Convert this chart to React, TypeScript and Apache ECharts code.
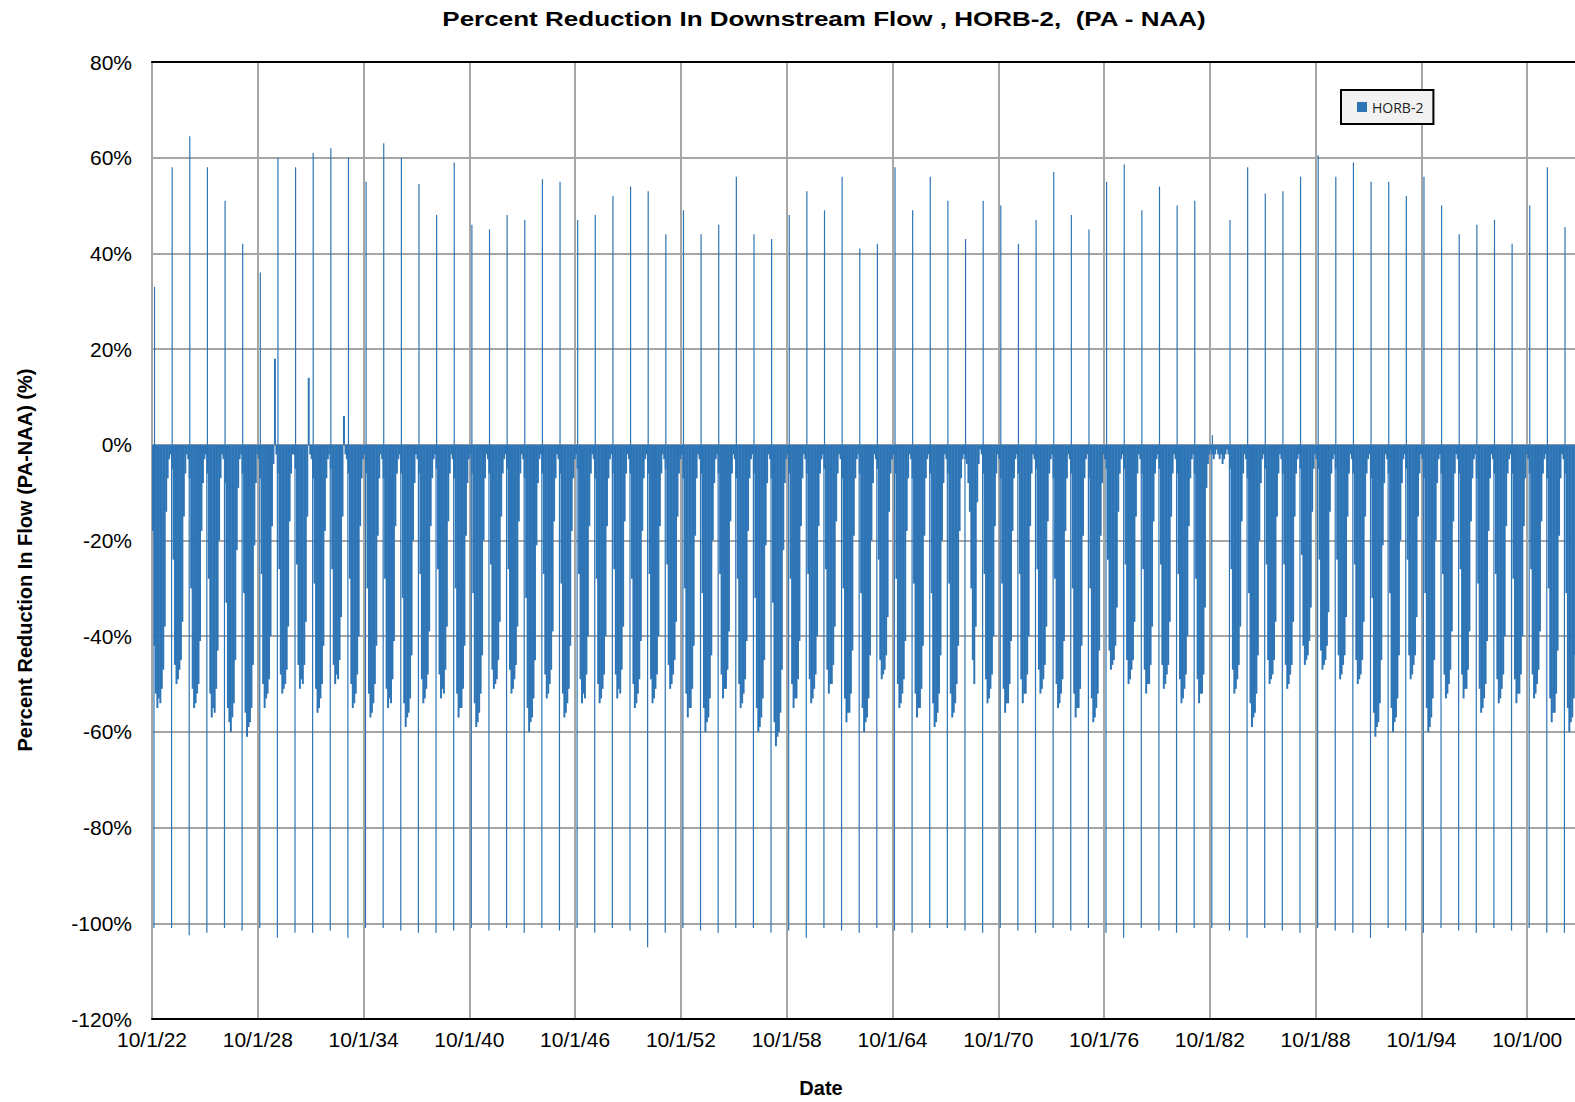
import React, { useEffect, useRef } from "react";
import * as echarts from "echarts";

// Water years begin 10/1 of these calendar years (10/1/1922 ... 10/1/2002).
const FIRST_WATER_YEAR = 1922;
const AXIS_YEARS = 84; // axis runs 10/1/22 .. 10/1/06
const Y_TICKS = [-120, -100, -80, -60, -40, -20, 0, 20, 40, 60, 80];

// Monthly percent reduction (PA - NAA), one row per water year, Oct..Sep.
const monthlyPct: number[][] = [
  [-18, -42, -52, -55, -53, -54, -51, -47, -38, -14, -7, -3], // 1922
  [-2, -5, -24, -46, -50, -49, -47, -45, -37, -15, -6, -2],
  [-3, -7, -30, -51, -55, -54, -52, -50, -41, -18, -8, -3],
  [-2, -6, -28, -52, -57, -55, -56, -51, -43, -20, -7, -2],
  [-3, -8, -33, -55, -58, -60, -57, -54, -45, -22, -9, -3],
  [-2, -6, -31, -56, -61, -59, -58, -55, -46, -21, -8, -2],
  [-3, -7, -27, -50, -55, -53, -52, -49, -40, -17, -4, 18],
  [-2, -6, -26, -48, -52, -51, -50, -47, -38, -16, -6, -2],
  [-2, -5, -25, -46, -51, -49, -50, -46, -37, -15, 14, -2],
  [-3, -7, -29, -51, -56, -55, -53, -50, -42, -18, -7, -3],
  [-2, -5, -26, -46, -50, -48, -49, -45, -36, -15, 6, -2], // 1932
  [-3, -6, -28, -50, -55, -54, -52, -48, -40, -17, -7, -3],
  [-2, -6, -30, -52, -57, -56, -54, -50, -42, -19, -7, -2],
  [-3, -7, -28, -51, -55, -53, -54, -49, -41, -17, -6, -3],
  [-2, -6, -32, -54, -59, -57, -56, -53, -44, -20, -8, -2],
  [-3, -6, -27, -49, -54, -53, -51, -48, -39, -17, -7, -3],
  [-2, -5, -26, -48, -53, -51, -52, -47, -38, -16, -6, -2],
  [-3, -7, -30, -52, -57, -55, -55, -51, -42, -19, -8, -3],
  [-2, -6, -31, -54, -59, -58, -56, -52, -44, -20, -7, -2], // 1940
  [-3, -6, -25, -47, -51, -50, -49, -45, -37, -15, -6, -3],
  [-2, -5, -26, -47, -52, -51, -49, -46, -38, -16, -6, -2],
  [-3, -7, -32, -55, -60, -58, -57, -53, -45, -21, -8, -3],
  [-2, -6, -27, -48, -53, -52, -50, -47, -39, -16, -7, -2],
  [-3, -6, -29, -52, -57, -56, -54, -51, -42, -18, -7, -3],
  [-2, -5, -27, -49, -54, -52, -53, -48, -40, -17, -6, -2],
  [-3, -7, -28, -50, -54, -53, -51, -48, -40, -17, -7, -3],
  [-2, -6, -26, -48, -53, -51, -52, -47, -38, -16, -6, -2],
  [-3, -6, -28, -50, -55, -54, -52, -49, -41, -18, -7, -3],
  [-2, -6, -27, -49, -54, -53, -51, -48, -40, -17, -6, -2], // 1950
  [-3, -5, -25, -46, -51, -50, -48, -45, -37, -15, -6, -3],
  [-2, -7, -30, -52, -57, -55, -55, -51, -42, -19, -7, -2],
  [-3, -6, -31, -55, -60, -58, -57, -53, -44, -20, -8, -3],
  [-2, -6, -27, -48, -53, -51, -51, -47, -39, -16, -6, -2],
  [-3, -7, -28, -50, -55, -54, -52, -49, -41, -18, -7, -3],
  [-2, -6, -32, -55, -60, -59, -57, -53, -45, -21, -8, -2],
  [-3, -7, -33, -58, -63, -61, -60, -56, -47, -22, -8, -3],
  [-2, -6, -28, -50, -55, -53, -53, -49, -41, -17, -7, -2],
  [-3, -6, -27, -49, -54, -53, -51, -48, -40, -17, -6, -3],
  [-2, -5, -26, -47, -52, -50, -50, -46, -38, -16, -6, -2], // 1960
  [-3, -7, -30, -53, -58, -56, -56, -52, -43, -19, -7, -3],
  [-2, -6, -31, -55, -60, -58, -57, -53, -44, -20, -8, -2],
  [-3, -5, -24, -45, -49, -48, -47, -44, -36, -14, -6, -3],
  [-2, -6, -28, -50, -55, -54, -52, -49, -41, -18, -7, -2],
  [-3, -7, -29, -52, -57, -55, -55, -51, -42, -19, -7, -3],
  [-2, -6, -31, -54, -59, -58, -56, -52, -44, -20, -8, -2],
  [-3, -6, -29, -52, -57, -56, -54, -50, -42, -18, -7, -3],
  [-2, -3, -4, -8, -14, -30, -45, -50, -38, -12, -4, -1],
  [-2, -6, -27, -49, -54, -53, -51, -48, -40, -17, -6, -2],
  [-3, -7, -29, -51, -56, -54, -54, -50, -41, -18, -7, -3], // 1970
  [-2, -6, -27, -49, -54, -52, -52, -48, -40, -17, -6, -2],
  [-3, -5, -26, -47, -52, -51, -49, -46, -38, -16, -6, -3],
  [-2, -7, -28, -50, -55, -54, -52, -49, -41, -18, -7, -2],
  [-3, -6, -30, -52, -57, -55, -55, -51, -42, -19, -7, -3],
  [-2, -7, -30, -53, -58, -57, -55, -52, -43, -19, -8, -2],
  [-3, -5, -24, -43, -47, -46, -45, -42, -34, -14, -6, -3],
  [-2, -5, -25, -45, -50, -49, -47, -45, -37, -15, -6, -2],
  [-3, -6, -26, -47, -52, -50, -50, -46, -38, -16, -6, -3],
  [-2, -5, -25, -46, -51, -50, -48, -46, -37, -15, -6, -2],
  [-3, -6, -27, -49, -54, -53, -51, -48, -40, -17, -7, -3], // 1980
  [-2, -6, -28, -49, -54, -52, -52, -48, -34, -9, -4, -2],
  [-1, -2, -3, -2, -1, -2, -3, -2, -4, -3, -2, -1],
  [-2, -5, -26, -47, -52, -51, -49, -46, -38, -16, -6, -2],
  [-3, -7, -31, -54, -59, -57, -56, -52, -44, -20, -8, -3],
  [-2, -5, -25, -45, -50, -49, -48, -45, -37, -15, -6, -2],
  [-3, -6, -25, -46, -51, -50, -48, -46, -37, -15, -6, -3],
  [-2, -5, -23, -42, -46, -45, -44, -41, -34, -14, -5, -2],
  [-3, -5, -24, -43, -47, -46, -45, -42, -35, -14, -6, -3],
  [-2, -5, -24, -44, -49, -48, -46, -44, -36, -15, -6, -2],
  [-3, -6, -25, -45, -50, -49, -48, -45, -37, -15, -6, -3], // 1990
  [-2, -7, -32, -56, -61, -59, -58, -54, -45, -21, -8, -2],
  [-3, -6, -31, -55, -60, -58, -57, -53, -44, -20, -8, -3],
  [-2, -5, -24, -44, -49, -48, -46, -44, -36, -15, -6, -2],
  [-3, -7, -31, -55, -60, -59, -57, -53, -45, -20, -8, -3],
  [-2, -6, -27, -48, -53, -52, -50, -47, -39, -16, -6, -2],
  [-3, -6, -26, -48, -53, -51, -51, -47, -39, -16, -7, -3],
  [-2, -7, -29, -51, -56, -55, -53, -50, -41, -18, -7, -2],
  [-3, -6, -27, -49, -54, -53, -51, -48, -40, -17, -6, -3],
  [-2, -6, -28, -49, -54, -52, -52, -48, -40, -17, -7, -2],
  [-3, -6, -26, -48, -53, -52, -50, -47, -39, -16, -6, -3], // 2000
  [-2, -7, -30, -53, -58, -56, -56, -52, -43, -19, -7, -2],
  [-3, -6, -31, -55, -60, -58, -57, -53, -44, -20, -8, -3],
];

// Short-lived autumn peaks (one per water year), percent.
const peakIncrease: number[] = [
  33, 58, 64.5, 58, 51, 42, 36, 60, 58, 61,
  62, 60, 55, 63, 60, 54.5, 48, 59, 46, 45,
  48, 47, 55.5, 55, 47, 48, 52, 54, 53, 44,
  49, 44, 46, 56, 44, 43, 48, 53, 49, 56,
  41, 42, 58, 49, 56, 51, 43, 51, 50, 42,
  47, 57, 48, 45, 55, 58.6, 49, 54, 50, 51,
  2, 47, 58, 52.5, 53, 56, 60.5, 56, 59, 55,
  55, 52, 56, 50, 44, 46, 47, 42, 50, 58,
  45.5,
];

// Short-lived autumn drops (one per water year), percent.
const peakDecrease: number[] = [
  -101, -101, -102.5, -102, -101, -101.5, -101, -103, -102, -102,
  -101.5, -103, -101, -101, -101.5, -102, -102, -101.5, -101, -101.5,
  -101, -102, -101, -101.5, -101, -102, -101, -101.5, -105, -102,
  -101, -101.5, -102, -101, -101, -102, -101.5, -103, -101, -101.5,
  -102, -101, -101.5, -102, -101, -101, -101.5, -102, -101, -101.5,
  -102, -101, -101.5, -101, -102, -103, -101, -101.5, -102, -101,
  -101, -101.5, -103, -101, -101.5, -102, -101, -101.5, -102, -103,
  -101, -101.5, -102, -101, -101.5, -102, -101, -101.5, -101, -102,
  -102,
];

const BLUE = "#2E75B6";
const GRID_GRAY = "#A6A6A6";
const FONT = "'Liberation Sans', Arial, sans-serif";

type Rect = [number, number, number];

function buildBlocks(): Rect[] {
  const out: Rect[] = [];
  monthlyPct.forEach((row, yi) => {
    row.forEach((v, m) => {
      out.push([yi + m / 12, yi + (m + 1) / 12, v]);
    });
  });
  return out;
}

function buildPeaks(): Rect[] {
  const out: Rect[] = [];
  peakDecrease.forEach((v, yi) => {
    const x = yi + 28 / 365;
    out.push([x, x + 1 / 365, v]);
  });
  peakIncrease.forEach((v, yi) => {
    const x = yi + 40 / 365;
    out.push([x, x + 1 / 365, v]);
  });
  return out;
}

function rectRenderer(minWidth: number, overlap: number) {
  return (_params: any, api: any) => {
    const x0 = api.value(0);
    const x1 = api.value(1);
    const v = api.value(2);
    const a = api.coord([x0, 0]);
    const b = api.coord([x1, v]);
    const w = Math.max(minWidth, b[0] - a[0] + overlap);
    return {
      type: "rect",
      shape: {
        x: a[0],
        y: Math.min(a[1], b[1]),
        width: w,
        height: Math.abs(b[1] - a[1]),
      },
      style: { fill: BLUE },
    };
  };
}

export default function App() {
  const ref = useRef<HTMLDivElement>(null);

  useEffect(() => {
    if (!ref.current) return;
    const chart = echarts.init(ref.current, undefined, { renderer: "svg" });

    const xLabel = (v: number) => {
      const yr = (FIRST_WATER_YEAR + v) % 100;
      return `10/1/${String(yr).padStart(2, "0")}`;
    };

    chart.setOption({
      animation: false,
      backgroundColor: "#ffffff",
      legend: {
        data: ["HORB-2"],
        left: 1341,
        top: 90,
        padding: [10, 10, 10, 16],
        itemWidth: 10,
        itemHeight: 10,
        icon: "rect",
        backgroundColor: "#F2F2F2",
        borderColor: "#000",
        borderWidth: 2,
        textStyle: { fontFamily: "'Open Sans', sans-serif", fontSize: 14, color: "#222" },
      },
      grid: {
        left: 152,
        top: 62,
        width: 1481,
        height: 957,
        outerBoundsMode: "none",
        containLabel: false,
      },
      xAxis: [
        {
          type: "value",
          min: 0,
          max: AXIS_YEARS,
          interval: 6,
          axisLine: { show: true, onZero: false, lineStyle: { color: "#000", width: 2 } },
          axisTick: { show: false },
          axisLabel: {
            formatter: xLabel,
            showMaxLabel: false,
            fontFamily: FONT,
            fontSize: 21,
            color: "#000",
            margin: 10,
          },
          splitLine: { show: true, lineStyle: { color: GRID_GRAY, width: 2 } },
        },
        {
          type: "value",
          position: "top",
          min: 0,
          max: AXIS_YEARS,
          interval: 6,
          axisLine: { show: true, onZero: false, lineStyle: { color: "#000", width: 2 } },
          axisTick: { show: false },
          axisLabel: { show: false },
          splitLine: { show: false },
        },
      ],
      yAxis: {
        type: "value",
        min: Y_TICKS[0],
        max: Y_TICKS[Y_TICKS.length - 1],
        interval: 20,
        axisLine: { show: true, onZero: false, lineStyle: { color: GRID_GRAY, width: 2 } },
        axisTick: { show: false },
        axisLabel: {
          formatter: (v: number) => `${v}%`,
          fontFamily: FONT,
          fontSize: 21,
          color: "#000",
          margin: 20,
        },
        splitLine: { show: true, lineStyle: { color: GRID_GRAY, width: 2 } },
      },
      graphic: [
        {
          type: "text",
          x: 824,
          y: 19,
          scaleX: 1.24,
          style: {
            text: "Percent Reduction In Downstream Flow , HORB-2,  (PA - NAA)",
            font: `bold 21px ${FONT}`,
            fill: "#000",
            align: "center",
            verticalAlign: "middle",
          },
        },
        {
          type: "text",
          x: 821,
          y: 1088,
          style: {
            text: "Date",
            font: `bold 20px ${FONT}`,
            fill: "#000",
            align: "center",
            verticalAlign: "middle",
          },
        },
        {
          type: "text",
          x: 25,
          y: 560,
          rotation: Math.PI / 2,
          style: {
            text: "Percent Reduction In Flow (PA-NAA) (%)",
            font: `bold 20px ${FONT}`,
            fill: "#000",
            align: "center",
            verticalAlign: "middle",
          },
        },
      ],
      series: [
        {
          name: "HORB-2",
          type: "custom",
          xAxisIndex: 0,
          clip: true,
          itemStyle: { color: BLUE },
          encode: { x: [0, 1], y: 2 },
          renderItem: rectRenderer(0.5, 0.5),
          data: buildBlocks(),
        },
        {
          name: "HORB-2",
          type: "custom",
          xAxisIndex: 0,
          clip: true,
          itemStyle: { color: BLUE },
          encode: { x: [0, 1], y: 2 },
          renderItem: rectRenderer(1.2, 0),
          data: buildPeaks(),
        },
      ],
    });

    return () => chart.dispose();
  }, []);

  return (
    <div
      ref={ref}
      style={{ position: "fixed", left: 0, top: 0, width: 1575, height: 1102, background: "#fff" }}
    />
  );
}
